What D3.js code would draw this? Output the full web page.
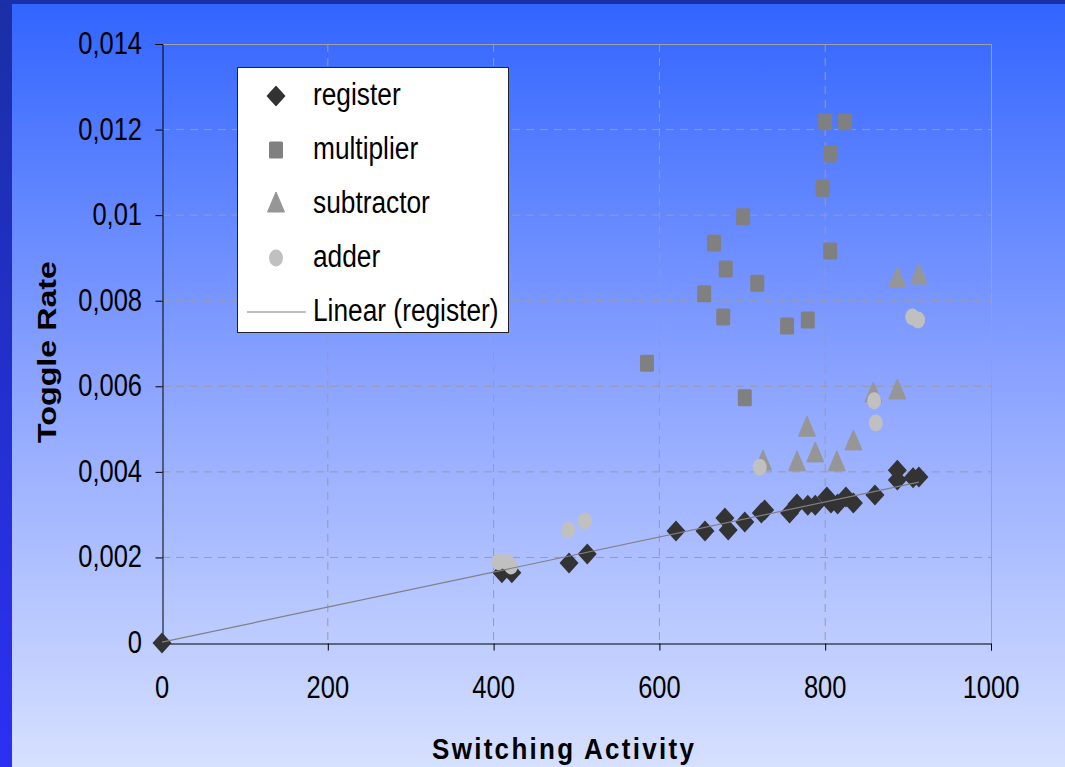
<!DOCTYPE html>
<html>
<head>
  <meta charset="UTF-8">
  <script src="https://cdn.jsdelivr.net/npm/d3@7"></script>
  <style>
    * { box-sizing: border-box; }
    html, body { margin: 0; padding: 0; overflow: hidden; }
    text { font-family: "Liberation Sans", Arial, sans-serif; fill: #000; }
  </style>
</head>
<body>
<div id="root"></div>
<script>
  // values: [switching activity, toggle rate]
  var register = [
    [0, 0], [410, 0.00164], [422, 0.00164], [491, 0.00187], [513, 0.00208],
    [620, 0.00262], [655, 0.00262], [679, 0.00292], [683, 0.00264], [703, 0.00283],
    [723, 0.00304], [727, 0.00311], [757, 0.00304], [766, 0.00325], [779, 0.00322],
    [788, 0.00322], [802, 0.00341], [807, 0.00327], [815, 0.00325], [825, 0.00341],
    [834, 0.00327], [860, 0.00346], [887, 0.00404], [887, 0.00381], [906, 0.00386],
    [913, 0.00388]
  ];
  var multiplier = [
    [585, 0.00654], [654, 0.00816], [666, 0.00935], [680, 0.00874], [677, 0.00762],
    [701, 0.00996], [703, 0.00573], [718, 0.00841], [754, 0.00741], [779, 0.00755],
    [797, 0.01063], [800, 0.01218], [806, 0.01143], [806, 0.00916], [824, 0.01218]
  ];
  var subtractor = [
    [725, 0.00423], [766, 0.00421], [778, 0.00502], [788, 0.00442], [814, 0.00421],
    [834, 0.00470], [858, 0.00582], [887, 0.00589], [887, 0.00851], [913, 0.00858]
  ];
  var adder = [
    [406, 0.00190], [417, 0.00188], [421, 0.00180], [490, 0.00264], [510, 0.00285],
    [721, 0.00411], [859, 0.00566], [861, 0.00514], [905, 0.00762], [912, 0.00755]
  ];
  // linear trend of register, as drawn in the picture (end points)
  var trendX = [0, 913];
  var trendY = [0.00002, 0.00376];
  var xTicks = [0, 200, 400, 600, 800, 1000];
  var yTicks = [0, 0.002, 0.004, 0.006, 0.008, 0.01, 0.012, 0.014];
  var legendLabels = ["register", "multiplier", "subtractor", "adder", "Linear (register)"];

  var W = 1065, H = 767;
  var plot = {left: 162, right: 991, top: 44, bottom: 643};

  var svg = d3.select("#root").append("svg")
    .attr("width", W).attr("height", H);

  // background
  var defs = svg.append("defs");
  var bg = defs.append("linearGradient").attr("id", "bg")
    .attr("x1", 0).attr("y1", 0).attr("x2", 0).attr("y2", 1);
  bg.append("stop").attr("offset", "0%").attr("stop-color", "#3164ff");
  bg.append("stop").attr("offset", "50%").attr("stop-color", "#8ca4ff");
  bg.append("stop").attr("offset", "100%").attr("stop-color", "#d6e0ff");
  var side = defs.append("linearGradient").attr("id", "side")
    .attr("x1", 0).attr("y1", 0).attr("x2", 0).attr("y2", 1);
  side.append("stop").attr("offset", "0%").attr("stop-color", "#1a2fa6");
  side.append("stop").attr("offset", "100%").attr("stop-color", "#2c30f4");

  svg.append("rect").attr("width", W).attr("height", H).attr("fill", "url(#bg)");
  svg.append("rect").attr("width", 12).attr("height", H).attr("fill", "url(#side)");
  svg.append("rect").attr("width", W).attr("height", 4).attr("fill", "#1a30a8");

  var x = d3.scaleLinear().domain([0, 1000]).range([plot.left, plot.right]);
  var y = d3.scaleLinear().domain([0, 0.014]).range([plot.bottom, plot.top]);
  var fmt = function(v) { return v === 0 ? "0" : String(+v.toFixed(3)).replace(".", ","); };

  // gridlines
  var grid = svg.append("g");
  grid.selectAll(".gx").data(xTicks.slice(1, -1)).enter().append("line")
    .attr("x1", d => x(d)).attr("x2", d => x(d))
    .attr("y1", plot.top).attr("y2", plot.bottom)
    .attr("stroke", "#9a9aa6").attr("stroke-dasharray", "8,6");
  grid.selectAll(".gy").data(yTicks.slice(1, -1)).enter().append("line")
    .attr("x1", plot.left).attr("x2", plot.right)
    .attr("y1", d => y(d)).attr("y2", d => y(d))
    .attr("stroke", "#9a9aa6").attr("stroke-dasharray", "8,6");
  // top / right border
  grid.append("path")
    .attr("d", "M" + plot.left + "," + (plot.top + 0.5) + "H" + (plot.right + 0.5) + "V" + plot.bottom)
    .attr("fill", "none").attr("stroke", "#a0a0a8");

  // axes
  var xAxis = svg.append("g").attr("transform", "translate(0," + (plot.bottom + 0.5) + ")")
    .call(d3.axisBottom(x).tickValues(xTicks).tickSize(7).tickFormat(""));
  var yAxis = svg.append("g").attr("transform", "translate(" + (plot.left + 0.5) + ",0)")
    .call(d3.axisLeft(y).tickValues(yTicks).tickSize(7).tickFormat(""));
  [xAxis, yAxis].forEach(function(a) {
    a.select(".domain").attr("stroke", "#000");
    a.selectAll(".tick line").attr("stroke", "#000");
  });

  // tick labels (the picture is stretched vertically)
  var sy = 1.23;
  svg.append("g").selectAll("text").data(yTicks).enter().append("text")
    .attr("transform", d => "translate(142," + (y(d) + 10) + ") scale(1," + sy + ")")
    .attr("text-anchor", "end").attr("font-size", 25.5).text(fmt);
  svg.append("g").selectAll("text").data(xTicks).enter().append("text")
    .attr("transform", d => "translate(" + x(d) + ",698) scale(1," + sy + ")")
    .attr("text-anchor", "middle").attr("font-size", 25.5).text(d => String(d));

  // axis titles
  svg.append("text")
    .attr("transform", "translate(432,759) scale(1,1.15)")
    .attr("font-size", 26).attr("font-weight", "bold")
    .attr("textLength", 262).attr("lengthAdjust", "spacing")
    .text("Switching Activity");
  svg.append("text")
    .attr("transform", "translate(56,443) rotate(-90)")
    .attr("font-size", 25).attr("font-weight", "bold")
    .attr("textLength", 182).attr("lengthAdjust", "spacingAndGlyphs")
    .text("Toggle Rate");

  // marker shapes
  var shapes = {
    diamond: function(g) { g.append("path").attr("d", "M0,-10.5L9.5,0L0,10.5L-9.5,0Z").attr("fill", "#333333"); },
    square: function(g) { g.append("rect").attr("x", -7).attr("y", -8.5).attr("width", 14).attr("height", 17).attr("rx", 1.5).attr("fill", "#808080"); },
    triangle: function(g) { g.append("path").attr("d", "M0,-12L8.5,8L-8.5,8Z").attr("fill", "#969696").attr("stroke", "#969696").attr("stroke-linejoin", "round").attr("stroke-width", 1); },
    circle: function(g) { g.append("ellipse").attr("rx", 7).attr("ry", 8.5).attr("fill", "#c0c0c0"); }
  };

  // drawing order as in the picture: adder on top
  var series = [
    {data: register, shape: "diamond"},
    {data: multiplier, shape: "square"},
    {data: subtractor, shape: "triangle"},
    {data: adder, shape: "circle"}
  ];
  series.forEach(function(s) {
    svg.append("g").selectAll("g").data(s.data).enter().append("g")
      .attr("transform", d => "translate(" + x(d[0]) + "," + y(d[1]) + ")")
      .each(function() { shapes[s.shape](d3.select(this)); });
  });

  svg.append("path")
    .datum(d3.zip(trendX, trendY))
    .attr("d", d3.line().x(d => x(d[0])).y(d => y(d[1])))
    .attr("fill", "none").attr("stroke", "#808080").attr("stroke-width", 1.2);

  // legend
  var lg = svg.append("g");
  lg.append("rect").attr("x", 237.5).attr("y", 67.5).attr("width", 271).attr("height", 265)
    .attr("fill", "#fff").attr("stroke", "#222");
  var legShapes = ["diamond", "square", "triangle", "circle"];
  legendLabels.forEach(function(lab, i) {
    var cy = 96 + i * 54;
    if (i < 4) {
      var g = lg.append("g").attr("transform", "translate(276," + cy + ")");
      shapes[legShapes[i]](g);
    } else {
      lg.append("line").attr("x1", 247).attr("x2", 306).attr("y1", cy).attr("y2", cy)
        .attr("stroke", "#808080").attr("stroke-width", 1.2);
    }
    lg.append("text")
      .attr("transform", "translate(313," + (cy + 9) + ") scale(1,1.18)")
      .attr("font-size", 26.3).text(lab);
  });
</script>
</body>
</html>
